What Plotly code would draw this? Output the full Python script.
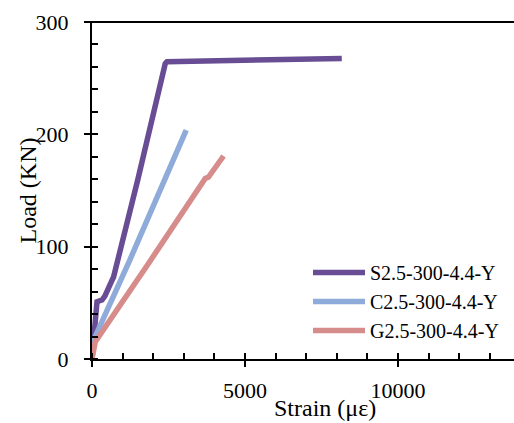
import plotly.graph_objects as go

# Data (strain in microstrain, load in kN)
s_strain = [0, 60, 163, 326, 420, 653, 705, 1500, 2285, 2393, 2449, 5000, 8162]
s_load = [0, 25, 51, 52.5, 56, 70, 73, 160, 251, 263, 264.6, 266, 267.6]

c_strain = [0, 54, 1250, 2774, 2883, 3079]
c_load = [0, 17, 89, 184.5, 193, 203.7]

g_strain = [0, 40, 108, 1796, 3700, 3808, 4298]
g_load = [0, 8, 15.4, 83, 160.8, 162, 180.7]

names = ["S2.5-300-4.4-Y", "C2.5-300-4.4-Y", "G2.5-300-4.4-Y"]
colors = ["#694d94", "#8fabd9", "#d68c8a"]

x_ticks = [0, 5000, 10000]
y_ticks = [0, 100, 200, 300]

FONT = "Liberation Serif"
TICKFONT = dict(family=FONT, size=22, color="black")

fig = go.Figure()
for xs, ys, n, c in zip([s_strain, c_strain, g_strain], [s_load, c_load, g_load], names, colors):
    fig.add_trace(go.Scatter(x=xs, y=ys, mode="lines", name=n,
                             line=dict(color=c, width=5.5)))

XR = [0, 13790]
YR = [0, 300]
L, R, T, B = 92, 0, 22, 64
W, H = 514, 423

fig.update_layout(
    width=W, height=H,
    margin=dict(l=L, r=R, t=T, b=B, autoexpand=False),
    paper_bgcolor="white", plot_bgcolor="white",
    font=dict(family=FONT, size=20, color="black"),
    showlegend=True,
    legend=dict(x=(308 - L) / (W - L), y=(H - B - 350) / (H - T - B), xanchor="left", yanchor="bottom",
                bgcolor="rgba(0,0,0,0)", font=dict(size=20, family=FONT),
                itemwidth=52, tracegroupgap=0),
    xaxis=dict(range=XR, tickvals=x_ticks, ticktext=[str(v) for v in x_ticks],
               automargin=False, tickfont=TICKFONT,
               showgrid=False, zeroline=False, showline=True, linecolor="black",
               linewidth=2, mirror=False, ticks="outside", ticklen=6, tickwidth=2,
               tickcolor="black", ticklabelstandoff=5,
               minor=dict(dtick=1000, ticks="inside", ticklen=6, tickwidth=2, tickcolor="black", showgrid=False)),
    yaxis=dict(range=YR, tickvals=y_ticks, ticktext=[str(v) for v in y_ticks],
               automargin=False, tickfont=TICKFONT,
               showgrid=False, zeroline=False, showline=True, linecolor="black",
               linewidth=2, ticks="outside", ticklen=6, tickwidth=2,
               tickcolor="black", ticklabelstandoff=11,
               minor=dict(dtick=20, ticks="inside", ticklen=6, tickwidth=2, tickcolor="black", showgrid=False)),
    xaxis2=dict(range=XR, overlaying="x", tickvals=x_ticks, showticklabels=False,
                automargin=False,
                showgrid=False, zeroline=False, ticks="inside", ticklen=6, tickwidth=2,
                tickcolor="black", showline=False),
    yaxis2=dict(range=YR, overlaying="y", tickvals=y_ticks, showticklabels=False,
                automargin=False,
                showgrid=False, zeroline=False, ticks="inside", ticklen=6, tickwidth=2,
                tickcolor="black", showline=False),
)

# overlay invisible trace to activate overlay axes
fig.add_trace(go.Scatter(x=[0], y=[0], xaxis="x2", yaxis="y2", mode="markers",
                         marker=dict(opacity=0), showlegend=False, hoverinfo="skip"))

# top border line
fig.add_shape(type="line", xref="paper", yref="paper", x0=-6 / (W - L), x1=1, y0=1, y1=1,
              line=dict(color="black", width=2))

fig.add_annotation(text="Strain (\u03bc\u03b5)", xref="paper", yref="paper",
                   x=(325 - L) / (W - L), y=-(408 - (H - B)) / (H - T - B), xanchor="center", yanchor="middle",
                   showarrow=False, font=dict(size=24, family=FONT))
fig.add_annotation(text="Load (KN)", xref="paper", yref="paper", textangle=-90,
                   x=-(L - 27) / (W - L), y=0.5, xanchor="center", yanchor="middle",
                   showarrow=False, font=dict(size=24, family=FONT))

fig.write_html("out.html", config={"displayModeBar": False},
               post_script="document.body.style.margin='0';document.body.style.overflow='hidden';")
